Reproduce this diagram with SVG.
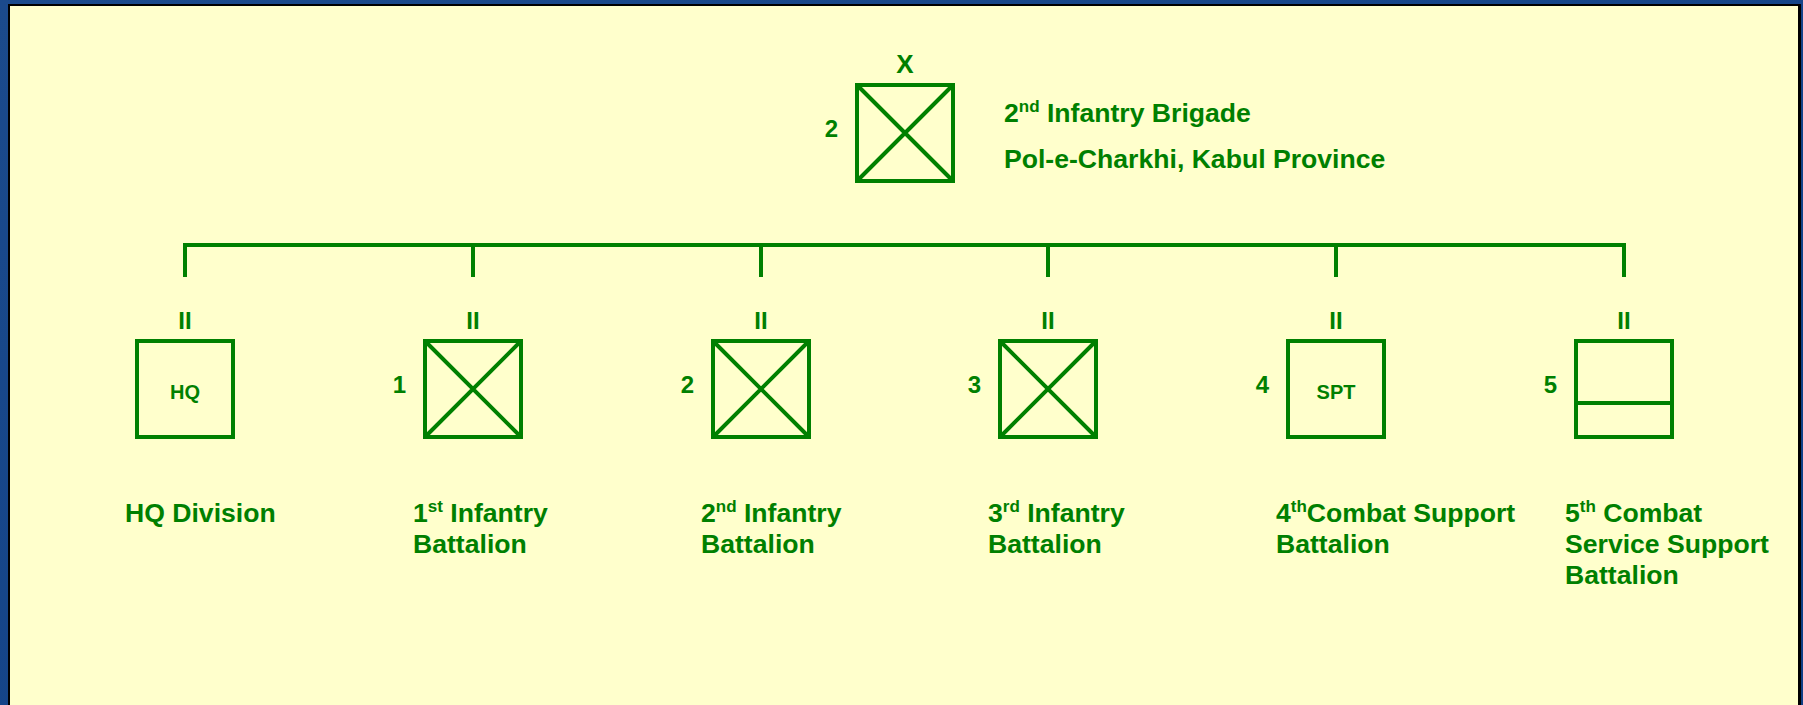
<svg xmlns="http://www.w3.org/2000/svg" width="1803" height="705" viewBox="0 0 1803 705">
<style>
text{font-family:"Liberation Sans",Arial,sans-serif;font-weight:bold;fill:#008000}
.sym{fill:none;stroke:#008000;stroke-width:4}
.con{fill:none;stroke:#008000;stroke-width:4}
.ech{font-size:24px;text-anchor:middle}
.num{font-size:24px;text-anchor:end}
.inn{font-size:20px;text-anchor:middle}
.lbl{font-size:26.6px}
.sup{font-size:17px}
</style>
<defs>
<linearGradient id="bg" x1="0" y1="0" x2="1" y2="1">
<stop offset="0" stop-color="#1b4a8c"/>
<stop offset="1" stop-color="#0f3f85"/>
</linearGradient>
</defs>
<rect x="0" y="0" width="1803" height="705" fill="url(#bg)"/>
<rect x="8" y="4" width="1793" height="710" fill="#000"/>
<rect x="10" y="6" width="1788" height="710" fill="#FFFFCC"/>

<g id="connectors">
<polyline class="con" points="185,277 185,245 1624,245 1624,277"/>
<line class="con" x1="473" y1="245" x2="473" y2="277"/>
<line class="con" x1="761" y1="245" x2="761" y2="277"/>
<line class="con" x1="1048" y1="245" x2="1048" y2="277"/>
<line class="con" x1="1336" y1="245" x2="1336" y2="277"/>
</g>

<g id="brigade">
<text class="ech" x="905" y="73" style="font-size:26px">X</text>
<rect class="sym" x="857" y="85" width="96" height="96"/>
<path class="sym" d="M857,85 L953,181 M953,85 L857,181"/>
<text class="num" x="838" y="137">2</text>
<text class="lbl" x="1004" y="122">2<tspan class="sup" dy="-10">nd</tspan><tspan dy="10"> Infantry Brigade</tspan></text>
<text class="lbl" x="1004" y="168">Pol-e-Charkhi, Kabul Province</text>
</g>

<g id="hq">
<text class="ech" x="185" y="329">II</text>
<rect class="sym" x="137" y="341" width="96" height="96"/>
<text class="inn" x="185" y="399">HQ</text>
<text class="lbl" x="125" y="522">HQ Division</text>
</g>

<g id="bn1">
<text class="ech" x="473" y="329">II</text>
<rect class="sym" x="425" y="341" width="96" height="96"/>
<path class="sym" d="M425,341 L521,437 M521,341 L425,437"/>
<text class="num" x="406" y="393">1</text>
<text class="lbl" x="413" y="522">1<tspan class="sup" dy="-10">st</tspan><tspan dy="10"> Infantry</tspan></text>
<text class="lbl" x="413" y="553">Battalion</text>
</g>

<g id="bn2">
<text class="ech" x="761" y="329">II</text>
<rect class="sym" x="713" y="341" width="96" height="96"/>
<path class="sym" d="M713,341 L809,437 M809,341 L713,437"/>
<text class="num" x="694" y="393">2</text>
<text class="lbl" x="701" y="522">2<tspan class="sup" dy="-10">nd</tspan><tspan dy="10"> Infantry</tspan></text>
<text class="lbl" x="701" y="553">Battalion</text>
</g>

<g id="bn3">
<text class="ech" x="1048" y="329">II</text>
<rect class="sym" x="1000" y="341" width="96" height="96"/>
<path class="sym" d="M1000,341 L1096,437 M1096,341 L1000,437"/>
<text class="num" x="981" y="393">3</text>
<text class="lbl" x="988" y="522">3<tspan class="sup" dy="-10">rd</tspan><tspan dy="10"> Infantry</tspan></text>
<text class="lbl" x="988" y="553">Battalion</text>
</g>

<g id="bn4">
<text class="ech" x="1336" y="329">II</text>
<rect class="sym" x="1288" y="341" width="96" height="96"/>
<text class="inn" x="1336" y="399">SPT</text>
<text class="num" x="1269" y="393">4</text>
<text class="lbl" x="1276" y="522">4<tspan class="sup" dy="-10">th</tspan><tspan dy="10">Combat Support</tspan></text>
<text class="lbl" x="1276" y="553">Battalion</text>
</g>

<g id="bn5">
<text class="ech" x="1624" y="329">II</text>
<rect class="sym" x="1576" y="341" width="96" height="96"/>
<line class="sym" x1="1576" y1="403" x2="1672" y2="403"/>
<text class="num" x="1557" y="393">5</text>
<text class="lbl" x="1565" y="522">5<tspan class="sup" dy="-10">th</tspan><tspan dy="10"> Combat</tspan></text>
<text class="lbl" x="1565" y="553">Service Support</text>
<text class="lbl" x="1565" y="584">Battalion</text>
</g>
</svg>
